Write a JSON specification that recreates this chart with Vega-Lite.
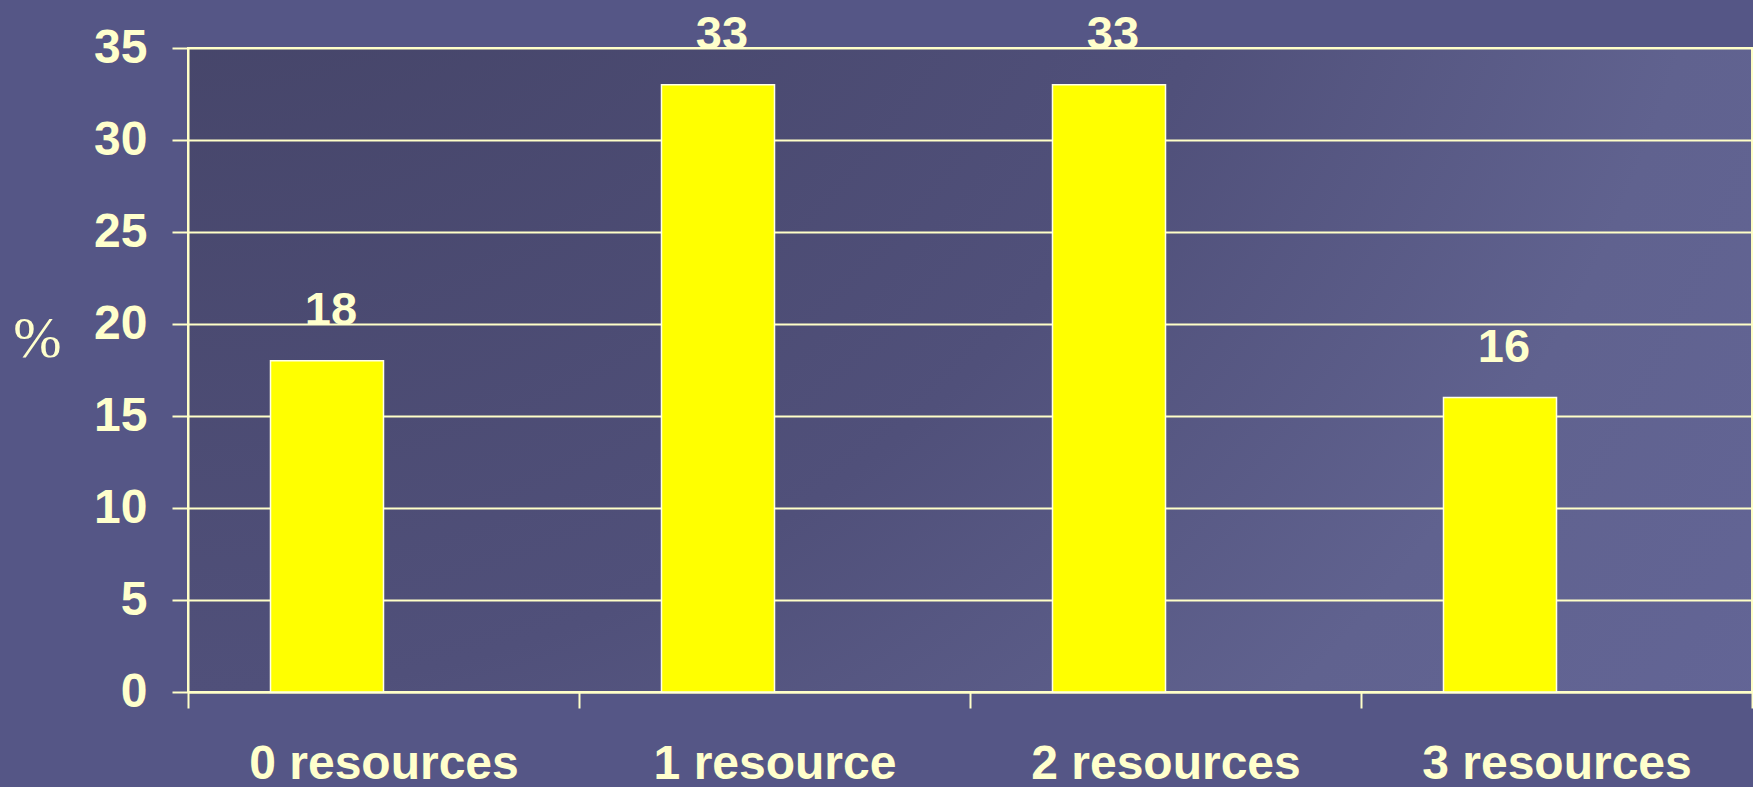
{
  "$schema": "https://vega.github.io/schema/vega-lite/v6.json",
  "autosize": {"type": "none"},
  "padding": {"left": 188, "top": 48, "right": 1, "bottom": 95},
  "width": 1564,
  "height": 644,
  "background": "#555686",
  "data": {
    "values": [
      {"cat": "0 resources", "pct": 18, "series": "A"},
      {"cat": "1 resource", "pct": 33, "series": "A"},
      {"cat": "2 resources", "pct": 33, "series": "A"},
      {"cat": "3 resources", "pct": 16, "series": "A"}
    ]
  },
  "encoding": {
    "x": {
      "field": "cat", "type": "nominal", "sort": null,
      "scale": {"paddingInner": 0, "paddingOuter": 0},
      "axis": {
        "title": null, "labelAngle": 0, "tickBand": "extent", "grid": false,
        "tickSize": 16, "tickWidth": 2, "tickColor": "#FFFFC8",
        "domainColor": "#FFFFC8", "domainWidth": 2,
        "labelFont": "Liberation Sans", "labelFontWeight": "bold", "labelFontSize": 48,
        "labelColor": "#FFFFCC", "labelPadding": 32, "labelLimit": 0
      }
    },
    "xOffset": {
      "field": "series", "type": "nominal",
      "scale": {"domain": ["A", "B"], "paddingInner": 0, "paddingOuter": 0.73}
    },
    "y": {
      "field": "pct", "type": "quantitative",
      "scale": {"domain": [0, 35], "nice": false},
      "axis": {
        "values": [0, 5, 10, 15, 20, 25, 30, 35],
        "grid": true, "gridColor": "#FFFFC8", "gridWidth": 2, "gridOpacity": 1,
        "tickSize": 16, "tickWidth": 2, "tickColor": "#FFFFC8",
        "domainColor": "#FFFFC8", "domainWidth": 2,
        "labelFont": "Liberation Sans", "labelFontWeight": "bold", "labelFontSize": 48,
        "labelColor": "#FFFFCC", "labelPadding": 25, "labelLimit": 0,
        "title": "%", "titleAngle": 0, "titleFont": "Liberation Serif",
        "titleFontWeight": "normal", "titleFontSize": 58, "titleColor": "#FFFFCC",
        "titleX": -151, "titleY": 291, "titleAlign": "center", "titleBaseline": "middle"
      }
    }
  },
  "layer": [
    {
      "mark": {"type": "bar", "color": "#FFFF00", "stroke": "#FFFFE8", "strokeWidth": 1.5}
    },
    {
      "mark": {
        "type": "text", "font": "Liberation Sans", "fontWeight": "bold", "fontSize": 47,
        "color": "#FFFFCC", "baseline": "alphabetic", "dy": -36, "dx": 4
      },
      "encoding": {"text": {"field": "pct", "type": "quantitative"}}
    }
  ],
  "config": {
    "view": {
      "stroke": "#FFFFC8", "strokeWidth": 2,
      "fill": {
        "gradient": "radial", "x1": 0, "y1": 0, "r1": 0, "x2": 0, "y2": 0, "r2": 1.414,
        "stops": [
          {"offset": 0, "color": "#403f60"},
          {"offset": 0.5, "color": "#50507a"},
          {"offset": 0.707, "color": "#60628f"},
          {"offset": 1, "color": "#65679b"}
        ]
      }
    }
  }
}
